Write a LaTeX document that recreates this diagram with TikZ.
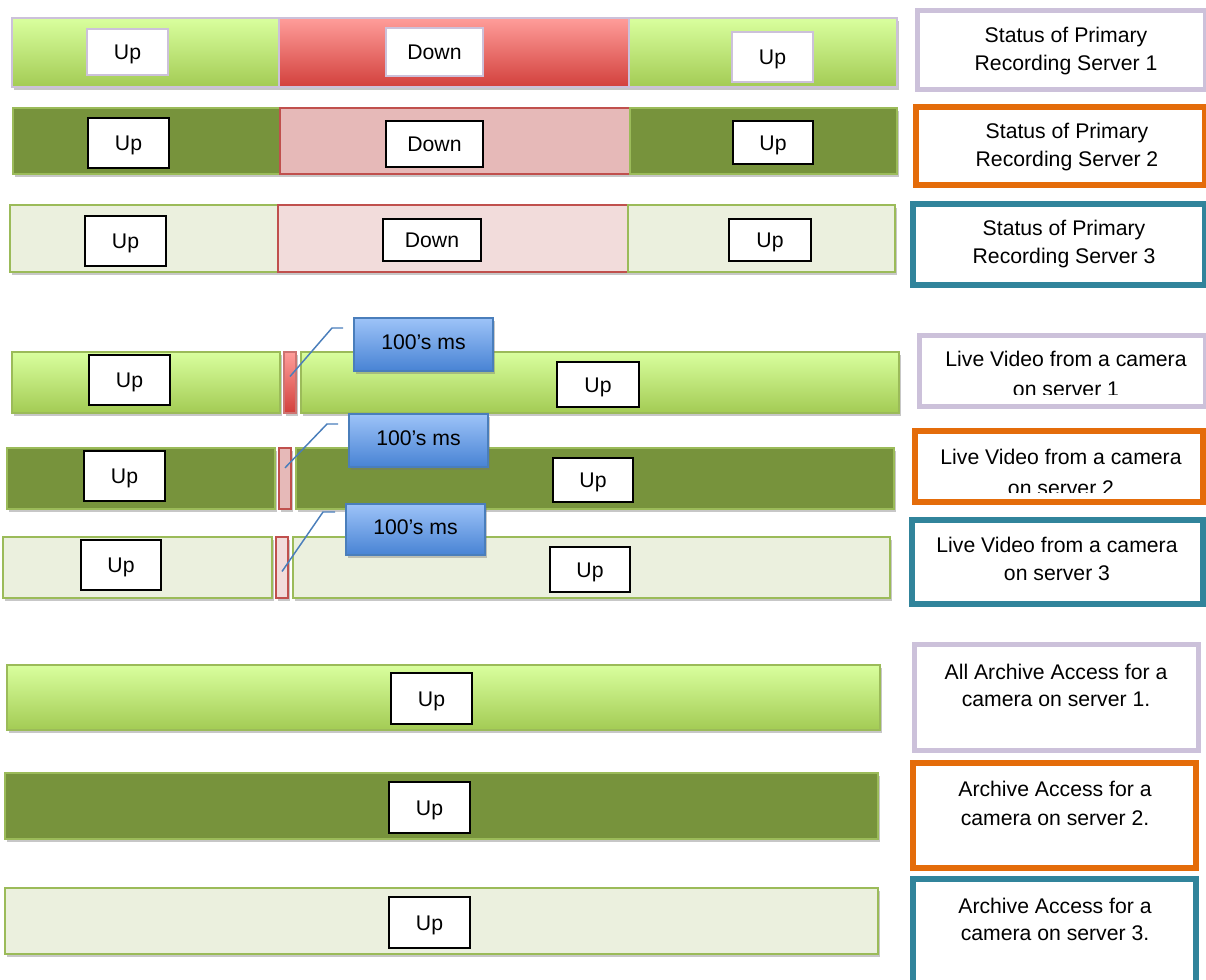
\documentclass[tikz,border=0pt]{standalone}
\usepackage{fontspec}
\setmainfont{Liberation Sans}
\usetikzlibrary{fit,shadows}

% palette
\definecolor{lgTop}{HTML}{D9FF9E}
\definecolor{lgBot}{HTML}{A3CB54}
\definecolor{olive}{HTML}{77933C}
\definecolor{paleGreen}{HTML}{EBF0DE}
\definecolor{greenEdge}{HTML}{9BBB59}
\definecolor{lav}{HTML}{CCC1DA}
\definecolor{rdTop}{HTML}{FF9D9A}
\definecolor{rdBot}{HTML}{D2403C}
\definecolor{rdEdge}{HTML}{C0504D}
\definecolor{rdMid}{HTML}{E6B9B8}
\definecolor{rdPale}{HTML}{F2DCDB}
\definecolor{orangeEdge}{HTML}{E46C0A}
\definecolor{tealEdge}{HTML}{31849B}
\definecolor{blTop}{HTML}{9DC3F8}
\definecolor{blBot}{HTML}{4883D4}
\definecolor{blEdge}{HTML}{4A7EBB}

\begin{document}
\begin{tikzpicture}[x=0.75pt,y=-0.75pt,
  font=\fontsize{15.9pt}{21pt}\selectfont,
  seg/.style={inner sep=0pt, line width=1.1pt,
    drop shadow={shadow xshift=1.5pt, shadow yshift=-2.6pt, opacity=0.4, fill=black!55}},
  gradGreen/.style={seg, top color=lgTop, bottom color=lgBot},
  gradRed/.style={seg, top color=rdTop, bottom color=rdBot},
  darkGreen/.style={seg, fill=olive, draw=greenEdge},
  lightGreen/.style={seg, fill=paleGreen, draw=greenEdge},
  midRed/.style={seg, fill=rdMid, draw=rdEdge},
  paleRed/.style={seg, fill=rdPale, draw=rdEdge},
  upbox/.style={inner sep=0pt, fill=white, draw=black, line width=1.5pt},
  lavbox/.style={inner sep=0pt, fill=white, draw=lav, line width=1.5pt},
  boxtxt/.style={anchor=base, yshift=-5.7pt, inner sep=0pt},
  callout/.style={inner sep=0pt, line width=1.1pt, draw=blEdge,
    top color=blTop, bottom color=blBot,
    drop shadow={shadow xshift=1.5pt, shadow yshift=-2.6pt, opacity=0.4, fill=black!55}},
  callline/.style={draw=blEdge, line width=1.1pt},
  lblbox/.style={inner sep=0pt, fill=white},
  lbltxt/.style={anchor=base, inner sep=0pt},
]
\useasboundingbox (0,0) rectangle (1206,980);

% ---------- status of the recording servers ----------
\node[gradGreen, draw=lav, fit={(12,18) (279,87)}] (s1a) {};
\node[gradRed,   draw=lav, fit={(279,18) (629,87)}] (s1b) {};
\node[gradGreen, draw=lav, fit={(629,18) (897,87)}] (s1c) {};
\node[lavbox, fit={(87,29) (168,75)}]  (s1au) {};
\node[lavbox, fit={(386,28) (483,76)}] (s1bd) {};
\node[lavbox, fit={(732,32) (813,82)}] (s1cu) {};
\node[boxtxt] (s1aut) at (s1au.center) {Up};
\node[boxtxt] (s1bdt) at (s1bd.center) {Down};
\node[boxtxt] (s1cut) at (s1cu.center) {Up};

\node[darkGreen, fit={(13,108) (280,174)}] (s2a) {};
\node[midRed,    fit={(280,108) (630,174)}] (s2b) {};
\node[darkGreen, fit={(630,108) (897,174)}] (s2c) {};
\node[upbox, fit={(88,118) (169,168)}]  (s2au) {};
\node[upbox, fit={(386,121) (483,167)}] (s2bd) {};
\node[upbox, fit={(733,121) (813,164)}] (s2cu) {};
\node[boxtxt] (s2aut) at (s2au.center) {Up};
\node[boxtxt] (s2bdt) at (s2bd.center) {Down};
\node[boxtxt] (s2cut) at (s2cu.center) {Up};

\node[lightGreen, fit={(10,205) (278,272)}] (s3a) {};
\node[paleRed,    fit={(278,205) (628,272)}] (s3b) {};
\node[lightGreen, fit={(628,205) (895,272)}] (s3c) {};
\node[upbox, fit={(85,216) (166,266)}]  (s3au) {};
\node[upbox, fit={(383,219) (481,261)}] (s3bd) {};
\node[upbox, fit={(729,219) (811,261)}] (s3cu) {};
\node[boxtxt] (s3aut) at (s3au.center) {Up};
\node[boxtxt] (s3bdt) at (s3bd.center) {Down};
\node[boxtxt] (s3cut) at (s3cu.center) {Up};

% ---------- live video ----------
\node[gradGreen, draw=greenEdge, fit={(12,352) (280,413)}] (v1a) {};
\node[gradRed, draw=rdEdge!80, fit={(284,352) (296,413)}] (v1r) {};
\node[gradGreen, draw=greenEdge, fit={(301,352) (899,413)}] (v1c) {};
\node[upbox, fit={(89,355) (170,405)}] (v1au) {};
\node[upbox, fit={(557,362) (639,407)}] (v1cu) {};
\node[boxtxt] (v1aut) at (v1au.center) {Up};
\node[boxtxt] (v1cut) at (v1cu.center) {Up};

\node[darkGreen, fit={(7,448) (275,509)}] (v2a) {};
\node[midRed, fit={(279,448) (291,509)}] (v2r) {};
\node[darkGreen, fit={(296,448) (894,509)}] (v2c) {};
\node[upbox, fit={(84,451) (165,501)}] (v2au) {};
\node[upbox, fit={(553,458) (633,502)}] (v2cu) {};
\node[boxtxt] (v2aut) at (v2au.center) {Up};
\node[boxtxt] (v2cut) at (v2cu.center) {Up};

\node[lightGreen, fit={(3,537) (272,598)}] (v3a) {};
\node[paleRed, fit={(276,537) (288,598)}] (v3r) {};
\node[lightGreen, fit={(293,537) (890,598)}] (v3c) {};
\node[upbox, fit={(81,540) (161,590)}] (v3au) {};
\node[upbox, fit={(550,547) (630,592)}] (v3cu) {};
\node[boxtxt] (v3aut) at (v3au.center) {Up};
\node[boxtxt] (v3cut) at (v3cu.center) {Up};

% callout leaders and boxes
\coordinate (k1b) at (332,328); \coordinate (k1) at (343,328);
\coordinate (k2b) at (327,424); \coordinate (k2) at (338,424);
\coordinate (k3b) at (323,512); \coordinate (k3) at (335,512);
\draw[callline] ([yshift=4.5pt]v1r.center) -- (k1b) -- (k1);
\draw[callline] ([yshift=8pt]v2r.center) -- (k2b) -- (k2);
\draw[callline] ([yshift=-3pt]v3r.center) -- (k3b) -- (k3);
\node[callout, fit={(354,318) (493,371)}] (c1) {};
\node[callout, fit={(349,414) (488,467)}] (c2) {};
\node[callout, fit={(346,504) (485,555)}] (c3) {};
\node[boxtxt, yshift=2pt] (c1t) at (c1.center) {100’s ms};
\node[boxtxt, yshift=2pt] (c2t) at (c2.center) {100’s ms};
\node[boxtxt, yshift=2pt] (c3t) at (c3.center) {100’s ms};

% ---------- archive access ----------
\node[gradGreen, draw=greenEdge, fit={(7,665) (880,730)}] (a1) {};
\node[upbox, fit={(391,673) (472,724)}] (a1u) {};
\node[darkGreen, fit={(5,773) (878,839)}] (a2) {};
\node[upbox, fit={(389,782) (470,833)}] (a2u) {};
\node[lightGreen, fit={(5,888) (878,954)}] (a3) {};
\node[upbox, fit={(389,897) (470,948)}] (a3u) {};
\node[boxtxt] (a1ut) at (a1u.center) {Up};
\node[boxtxt] (a2ut) at (a2u.center) {Up};
\node[boxtxt] (a3ut) at (a3u.center) {Up};

% ---------- legend boxes ----------
\node[lblbox, draw=lav, line width=3.75pt, fit={(917.5,10.5) (1205,89.5)}] (l1) {};
\node[lbltxt] (l1a) at (1066,43) {Status of Primary};
\node[lbltxt] (l1b) at (1066,71) {Recording Server 1};

\node[lblbox, draw=orangeEdge, line width=4.5pt, fit={(916,107) (1205,185.5)}] (l2) {};
\node[lbltxt] (l2a) at (1067,139) {Status of Primary};
\node[lbltxt] (l2b) at (1067,167) {Recording Server 2};

\node[lblbox, draw=tealEdge, line width=4.5pt, fit={(913,204) (1205,285)}] (l3) {};
\node[lbltxt] (l3a) at (1064,236) {Status of Primary};
\node[lbltxt] (l3b) at (1064,264) {Recording Server 3};

\node[lblbox, draw=lav, line width=3.75pt, fit={(919.5,335.5) (1205,406.5)}] (l4) {};
\begin{scope}
  \clip (921,337) rectangle (1204,394);
  \node[lbltxt] (l4a) at (1066,367) {Live Video from a camera};
  \node[lbltxt] (l4b) at (1066,397) {on server 1};
\end{scope}

\node[lblbox, draw=orangeEdge, line width=4.5pt, fit={(915,431) (1203,502)}] (l5) {};
\begin{scope}
  \clip (917,433) rectangle (1201,492);
  \node[lbltxt] (l5a) at (1061,464) {Live Video from a camera};
  \node[lbltxt] (l5b) at (1061,495) {on server 2};
\end{scope}

\node[lblbox, draw=tealEdge, line width=4.5pt, fit={(912,520) (1203,604)}] (l6) {};
\node[lbltxt] (l6a) at (1057,552) {Live Video from a camera};
\node[lbltxt] (l6b) at (1057,580) {on server 3};

\node[lblbox, draw=lav, line width=3.75pt, fit={(914.5,644.5) (1198.5,750.5)}] (l7) {};
\node[lbltxt] (l7a) at (1056,679) {All Archive Access for a};
\node[lbltxt] (l7b) at (1056,706) {camera on server 1.};

\node[lblbox, draw=orangeEdge, line width=4.5pt, fit={(913,763) (1196,868)}] (l8) {};
\node[lbltxt] (l8a) at (1055,796) {Archive Access for a};
\node[lbltxt] (l8b) at (1055,825) {camera on server 2.};

\node[lblbox, draw=tealEdge, line width=4.5pt, fit={(913,879) (1196,995)}] (l9) {};
\node[lbltxt] (l9a) at (1055,913) {Archive Access for a};
\node[lbltxt] (l9b) at (1055,940) {camera on server 3.};
\end{tikzpicture}
\end{document}
